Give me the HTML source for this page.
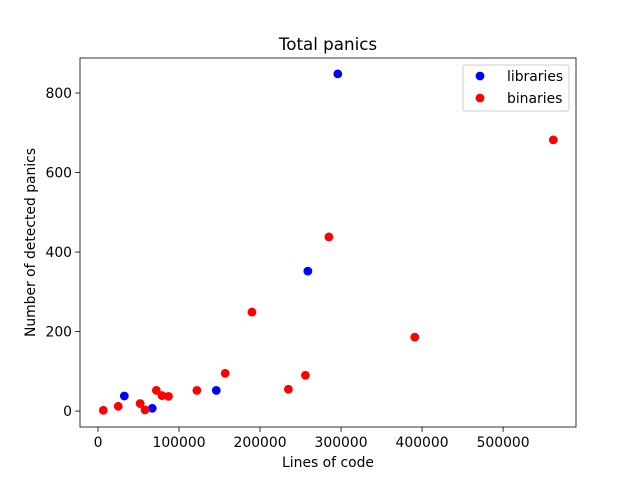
<!DOCTYPE html>
<html><head><meta charset="utf-8"><style>
body{margin:0;background:#fff;font-family:"Liberation Sans","DejaVu Sans",sans-serif}
svg text{font-family:"DejaVu Sans","Liberation Sans",sans-serif}
</style></head><body>
<svg id="c" width="640" height="480" xmlns="http://www.w3.org/2000/svg"></svg>
<script>
const libX=[32500,67000,146000,259000,296000];
const libY=[38,7,52,352,848];
const binX=[6500,25000,52000,58000,72000,79000,87000,122000,157000,190000,235000,256000,285000,391000,562000];
const binY=[2,12,19,3,52,39,37,52,95,249,55,90,438,186,682];
const xTicks=[0,100000,200000,300000,400000,500000];
const yTicks=[0,200,400,600,800];
const L=80,R=576,T=58,B=427;
const xmin=-22222,xmax=590000,ymin=-40,ymax=888;
const sx=v=>L+(v-xmin)/(xmax-xmin)*(R-L);
const sy=v=>B-(v-ymin)/(ymax-ymin)*(B-T);
const svg=document.getElementById('c');
const NS='http://www.w3.org/2000/svg';
function mk(t,a,txt){const e=document.createElementNS(NS,t);for(const k in a)e.setAttribute(k,a[k]);if(txt!=null)e.textContent=txt;svg.appendChild(e);return e;}
xTicks.forEach(v=>{const x=sx(v);
const l=mk('line',{x1:x,x2:x,y1:B,y2:B+4.9,stroke:'#000','stroke-width':0.8});


const t=mk('text',{x:x,y:B+20,'font-size':13.9,'text-anchor':'middle'},String(v));

});
yTicks.forEach(v=>{const y=sy(v);
const l=mk('line',{x1:L-4.9,x2:L,y1:y,y2:y,stroke:'#000','stroke-width':0.8});


const t=mk('text',{x:L-8,y:y+5,'font-size':13.9,'text-anchor':'end'},String(v));

});
libX.forEach((v,i)=>{const c=mk('circle',{cx:sx(v),cy:sy(libY[i]),r:4.4,fill:'#0000ff'});

});
binX.forEach((v,i)=>{const c=mk('circle',{cx:sx(v),cy:sy(binY[i]),r:4.4,fill:'#ff0000'});

});
const f=mk('rect',{x:L,y:T,width:R-L,height:B-T,fill:'none',stroke:'#000','stroke-width':0.8});


const ti=mk('text',{x:(L+R)/2,y:T-8,'font-size':16.7,'text-anchor':'middle'},'Total panics');


const xl=mk('text',{x:(L+R)/2,y:467,'font-size':13.9,'text-anchor':'middle'},'Lines of code');


const yl=mk('text',{x:35,y:(T+B)/2,'font-size':13.9,'text-anchor':'middle',transform:'rotate(-90 35 '+((T+B)/2)+')'},'Number of detected panics');


const lg=mk('rect',{x:463,y:65,width:106,height:46,fill:'#fff',stroke:'#ccc','stroke-width':1,rx:2});


[['libraries','#0000ff',76],['binaries','#ff0000',98]].forEach(([n,c,y])=>{
const d=mk('circle',{cx:480,cy:y,r:4.4,fill:c});


const t=mk('text',{x:507,y:y+5,'font-size':13.9},n);

});
</script>
</body></html>
